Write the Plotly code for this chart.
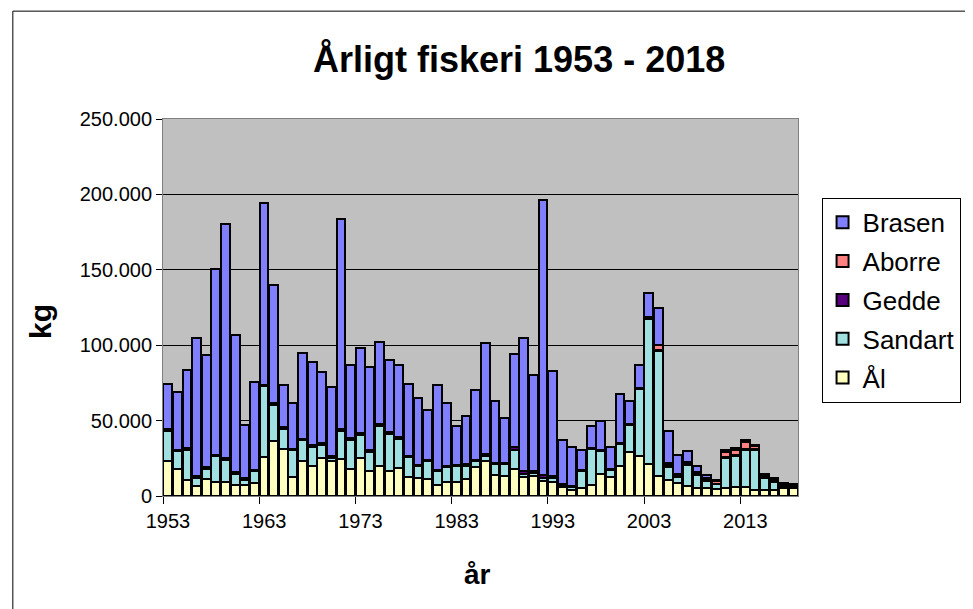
import plotly.graph_objects as go

years = list(range(1953, 2019))

aal = [23500, 18200, 10900, 6500, 11400, 9200, 9200, 7600, 7600, 8700,
       25700, 36800, 31200, 12700, 23000, 19800, 25300, 23500, 24600, 18000,
       25300, 16400, 20200, 16900, 18700, 12500, 12000, 11600, 7600, 9400,
       9200, 11400, 19300, 23500, 14200, 13500, 18000, 12500, 13500, 10200,
       9200, 6000, 3900, 5400, 7600, 14700, 12700, 20200, 29000, 26400,
       21500, 13100, 10500, 8300, 6500, 5400, 5400, 4700, 5400, 5800,
       5800, 4300, 3900, 4300, 5400, 5400]

sandart = [19900, 11500, 19900, 5500, 6600, 17200, 15000, 7300, 3300, 7700,
           47000, 23800, 13300, 17700, 14000, 12800, 8800, 1500, 18800, 19400,
           15400, 12500, 26500, 24500, 19200, 13200, 7800, 11400, 8800, 9700,
           10600, 8800, 3700, 3000, 6700, 7400, 12800, 2000, 1500, 2000,
           2500, 1000, 2000, 11200, 23800, 15200, 4400, 14500, 18000, 44500,
           96000, 82800, 8800, 4200, 13900, 8400, 4400, 3000, 19900, 20600,
           25000, 26100, 8100, 5100, 1000, 600]

gedde = [1000] * 17 + [1500, 1000, 1000, 1000, 1500] + [1000] * 11 + \
        [1500, 1000, 1000, 1500, 2000, 1500, 1500, 1500, 800, 600] + [500] * 6 + \
        [700, 1500, 1000, 1000, 800, 500, 500, 500, 300] + [500] * 7 + [400]

aborre = [0] * 51 + [3500, 1500, 1200, 1500, 1500, 1500, 2000, 3500, 3500,
                     4500, 2000, 500, 1000, 500, 500]

brasen = [29900, 38300, 52000, 91800, 74300, 123000, 155000, 90600, 35200, 58400,
          120900, 78400, 27900, 30500, 57000, 55300, 47100, 45600, 139400, 48200,
          56600, 55100, 54400, 48000, 48200, 47600, 44200, 32800, 56400, 41600,
          25400, 32100, 46500, 73400, 41300, 29900, 61900, 88000, 64000, 182700,
          69500, 29600, 26100, 13300, 14800, 19600, 14700, 32500, 15700, 15000,
          15500, 24200, 21600, 13000, 7300, 4000, 2000, 900, 1500, 1500,
          1500, 1000, 1500, 800, 1000, 800]

# stacked bottom -> top
series = [
    ("Ål", aal, "#FFFFC0"),
    ("Sandart", sandart, "#A0E0E0"),
    ("Gedde", gedde, "#5A007F"),
    ("Aborre", aborre, "#FF8080"),
    ("Brasen", brasen, "#8080FF"),
]

tick_labels = ["1953", "1963", "1973", "1983", "1993", "2003", "2013"]
tick_pos = [int(t) - 0.5 for t in tick_labels]
y_ticks = [0, 50000, 100000, 150000, 200000, 250000]

fig = go.Figure()
for i, (name, vals, col) in enumerate(series):
    fig.add_trace(go.Bar(
        x=years, y=vals, name=name, legendgroup=name,
        legendrank=1000 - i,
        marker=dict(color=col, line=dict(color="black", width=2)),
    ))

# page body has an 8px margin: work in page pixels, offset by 8
OFF = 8
PL, PR, PT, PB = 163, 810, 119, 496.5   # plot area in page pixels
W, H = 965, 601
PW, PH = PR - PL, PB - PT


def px(x):
    return (x - PL) / PW


def py(y):
    return (PB - y) / PH


font = "Arial, 'Liberation Sans', sans-serif"
fig.update_layout(
    width=W, height=H,
    barmode="stack", bargap=0.08,
    separators=",.",
    paper_bgcolor="white", plot_bgcolor="#C0C0C0",
    margin=dict(l=PL - OFF, r=W - (PR - OFF), t=PT - OFF, b=H - (PB - OFF)),
    font=dict(family=font, color="black", size=20),
    showlegend=True,
    legend=dict(
        x=px(834), y=py(198), xanchor="left", yanchor="top",
        bgcolor="white", bordercolor="black", borderwidth=1,
        font=dict(size=26, family=font),
        traceorder="grouped", tracegroupgap=2,
    ),
    xaxis=dict(
        range=[1952.5, 2018.5], tickmode="array", tickvals=tick_pos, ticktext=tick_labels,
        ticks="outside", ticklen=7, tickcolor="black", showgrid=False,
        showline=True, linecolor="#808080", linewidth=1, mirror=True,
        tickfont=dict(size=20), ticklabelshift=5, zeroline=False,
    ),
    yaxis=dict(
        range=[0, 250000], tickmode="array", tickvals=y_ticks, tickformat=",d",
        ticks="outside", ticklen=6, tickcolor="black",
        showgrid=True, gridcolor="black", gridwidth=1,
        showline=True, linecolor="#808080", linewidth=1, mirror=True,
        tickfont=dict(size=20), zeroline=False,
    ),
    annotations=[
        dict(text="<b>Årligt fiskeri 1953 - 2018</b>", xref="paper", yref="paper",
             x=px(526), y=py(59), xanchor="center", yanchor="middle",
             showarrow=False, font=dict(size=36, family=font)),
        dict(text="<b>kg</b>", xref="paper", yref="paper",
             x=px(38), y=py(322), xanchor="center", yanchor="middle",
             textangle=-90, showarrow=False, font=dict(size=30, family=font)),
        dict(text="<b>år</b>", xref="paper", yref="paper",
             x=px(483), y=py(575), xanchor="center", yanchor="middle",
             showarrow=False, font=dict(size=28, family=font)),
    ],
    shapes=[
        dict(type="rect", xref="paper", yref="paper",
             x0=px(10), x1=1.5, y0=-0.5, y1=py(11),
             line=dict(color="black", width=1), fillcolor="rgba(0,0,0,0)", layer="below"),
    ],
)

fig.write_html("out.html")
